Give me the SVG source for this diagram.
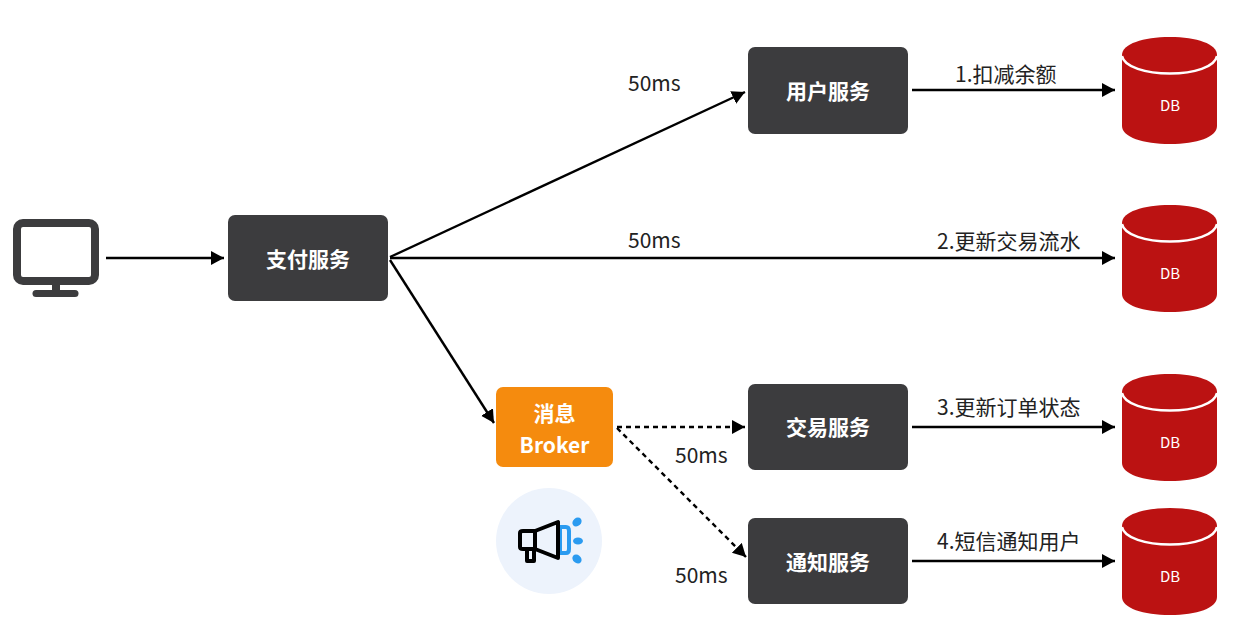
<svg xmlns="http://www.w3.org/2000/svg" width="1245" height="632" viewBox="0 0 1245 632">
<style>
text{font-family:"Noto Sans CJK SC","Noto Sans",sans-serif}
.svc{fill:#3c3c3e}
.svc-t{fill:#fff;font-size:21px;font-weight:700;text-anchor:middle}
.lbl{fill:#222;font-size:21px}
.db-t{fill:#fff;font-size:15px;text-anchor:middle}
.ln{fill:none;stroke:#000;stroke-width:2.4}
.dash{stroke-dasharray:5 4}
.db-body{fill:#bb1212}
.db-rim{fill:none;stroke:#fff;stroke-width:2.5}
</style>
<defs>
<marker id="arr" markerUnits="userSpaceOnUse" markerWidth="16" markerHeight="16" refX="13" refY="7" orient="auto"><path d="M0 0L13 7L0 14Z" fill="#000"/></marker>
<g id="db">
<path class="db-body" d="M1122 55C1122 44 1143 37 1170 37S1217 44 1217 55V126C1217 137 1197 144 1170 144S1122 137 1122 126Z"/>
<path class="db-rim" d="M1122 56C1124 67 1146 73.500 1170 73.500S1215 67 1217 56"/>
<text class="db-t" x="1170" y="111">DB</text>
</g>
</defs>
<g id="connectors">
<path class="ln" marker-end="url(#arr)" d="M106 258H224"/>
<path class="ln" marker-end="url(#arr)" d="M390 257L745 92"/>
<path class="ln" marker-end="url(#arr)" d="M390 258H1115"/>
<path class="ln" marker-end="url(#arr)" d="M390 260L494 423"/>
<path class="ln dash" marker-end="url(#arr)" d="M617 427H745"/>
<path class="ln dash" marker-end="url(#arr)" d="M617 428L746 557"/>
<path class="ln" marker-end="url(#arr)" d="M912 90H1115"/>
<path class="ln" marker-end="url(#arr)" d="M912 427H1115"/>
<path class="ln" marker-end="url(#arr)" d="M912 561H1115"/>
</g>
<g id="client" fill="none" stroke="#3c3c3e">
<rect x="17" y="223" width="78" height="58" rx="6" stroke-width="8"/>
<path d="M56 281V295" stroke-width="8"/>
<path d="M36 293.500H75" stroke-width="7" stroke-linecap="round"/>
</g>
<g id="pay"><rect class="svc" x="228" y="215" width="160" height="86" rx="7"/><text class="svc-t" x="308" y="267">支付服务</text></g>
<g id="user"><rect class="svc" x="748" y="47" width="160" height="87" rx="7"/><text class="svc-t" x="828" y="99">用户服务</text></g>
<g id="trade"><rect class="svc" x="748" y="384" width="160" height="86" rx="7"/><text class="svc-t" x="828" y="435">交易服务</text></g>
<g id="notify"><rect class="svc" x="748" y="518" width="160" height="86" rx="7"/><text class="svc-t" x="828" y="570">通知服务</text></g>
<g id="broker">
<rect x="496" y="387" width="117" height="80" rx="7" fill="#f58b0e"/>
<text x="554.500" y="421" fill="#fff" font-size="21" font-weight="700" text-anchor="middle">消息</text>
<text x="554.500" y="453" fill="#fff" font-size="21" font-weight="700" text-anchor="middle">Broker</text>
</g>
<g id="announce">
<circle cx="549" cy="541" r="53" fill="#edf3fc"/>
<path d="M560 527H566Q569 527 569 531V549Q569 553 566 553H560Z" fill="none" stroke="#2b9bf0" stroke-width="4"/>
<ellipse cx="577" cy="522" rx="5" ry="4" fill="#2b9bf0" transform="rotate(-40 577 522)"/>
<ellipse cx="578" cy="541" rx="5" ry="3.500" fill="#2b9bf0"/>
<ellipse cx="577" cy="559" rx="5" ry="4" fill="#2b9bf0" transform="rotate(40 577 559)"/>
<path d="M520 533Q520 531 523 531H535L558 522V558L535 549H523Q520 549 520 547Z" fill="none" stroke="#000" stroke-width="4" stroke-linejoin="round"/>
<path d="M535 531V549M527 549V561H534V549" fill="none" stroke="#000" stroke-width="4" stroke-linejoin="round"/>
</g>
<use href="#db" id="db1"/>
<use href="#db" id="db2" y="168"/>
<use href="#db" id="db3" y="337"/>
<use href="#db" id="db4" y="471"/>
<g id="labels">
<text class="lbl" x="628" y="91">50ms</text>
<text class="lbl" x="628" y="248">50ms</text>
<text class="lbl" x="675" y="463">50ms</text>
<text class="lbl" x="675" y="583">50ms</text>
<text class="lbl" x="955" y="82">1.扣减余额</text>
<text class="lbl" x="937" y="249">2.更新交易流水</text>
<text class="lbl" x="937" y="415">3.更新订单状态</text>
<text class="lbl" x="937" y="549">4.短信通知用户</text>
</g>
</svg>
